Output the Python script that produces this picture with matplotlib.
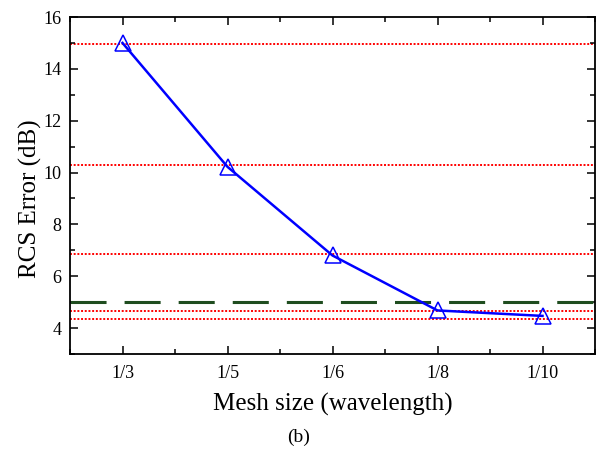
import matplotlib
matplotlib.use("Agg")
import matplotlib.pyplot as plt
from matplotlib.ticker import MultipleLocator

# data
mesh_labels = ["1/3", "1/5", "1/6", "1/8", "1/10"]
rcs_error = [15.0, 10.22, 6.8, 4.68, 4.47]
ref_levels = [14.96, 10.28, 6.84, 4.66, 4.36]
threshold = 5.0

plt.rcParams['font.family'] = ['Liberation Serif', 'DejaVu Serif']

fig = plt.figure(figsize=(6.02, 4.53), dpi=100)
ax = fig.add_axes([70 / 602, 1 - 354 / 453, 525 / 602, 337 / 453])

x = list(range(len(mesh_labels)))

for lev in ref_levels:
    ax.axhline(lev, color="red", linestyle=(0, (1.0, 0.9)), linewidth=1.4, zorder=1)

ax.axhline(threshold, color="#1f4d1f", linewidth=2.2,
           linestyle=(0, (11.8, 5.9)), zorder=2)

ax.plot(x, rcs_error, color="blue", linewidth=1.8, marker="^", markersize=11,
        markerfacecolor="none", markeredgecolor="blue", markeredgewidth=1.1, zorder=3)

ax.set_xlim(-0.5, 4.5)
ax.set_ylim(3, 16)
ax.set_xticks(x)
ax.set_xticklabels(mesh_labels)
ax.xaxis.set_minor_locator(MultipleLocator(0.5))
ax.yaxis.set_minor_locator(MultipleLocator(1))
ax.set_yticks([4, 6, 8, 10, 12, 14, 16])

ax.tick_params(which="both", direction="in", top=True, right=True,
               labelsize=13, width=1.1)
ax.tick_params(axis="y", pad=6)
ax.tick_params(axis="x", pad=8)
ax.tick_params(which="major", length=6)
ax.tick_params(which="minor", length=3.5)
for sp in ax.spines.values():
    sp.set_linewidth(1.3)

ax.set_ylabel("RCS Error (dB)", fontsize=18)
ax.yaxis.set_label_coords(-0.053, 0.46)
ax.set_xlabel("Mesh size (wavelength)", fontsize=18, labelpad=8)
fig.text(0.5 - 2 / 602, 1 - 437 / 453, "(b)", fontsize=14, ha="center", va="center")

fig.savefig("out.png", dpi=100)
